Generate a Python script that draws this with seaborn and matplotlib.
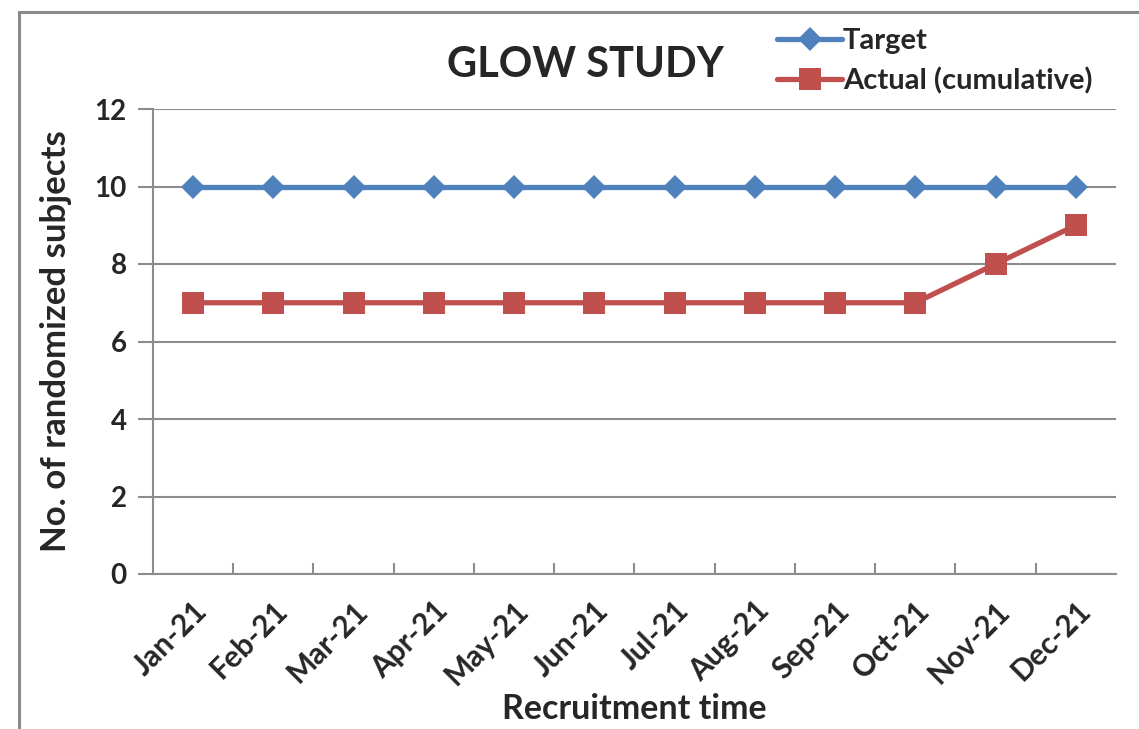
import matplotlib
matplotlib.use("Agg")
import matplotlib.pyplot as plt
from matplotlib.patches import Rectangle
from matplotlib.lines import Line2D
import seaborn as sns
import pandas as pd
import numpy as np

months = ["Jan-21", "Feb-21", "Mar-21", "Apr-21", "May-21", "Jun-21",
          "Jul-21", "Aug-21", "Sep-21", "Oct-21", "Nov-21", "Dec-21"]
target = [10, 10, 10, 10, 10, 10, 10, 10, 10, 10, 10, 10]
actual = [7, 7, 7, 7, 7, 7, 7, 7, 7, 7, 8, 9]
y_ticks = [0, 2, 4, 6, 8, 10, 12]

BLUE = "#4F81BD"
RED = "#C0504D"
GRID = "#8C8C8C"

sns.set_theme(style="white")
plt.rcParams["font.family"] = ["Lato", "DejaVu Sans"]
plt.rcParams["font.weight"] = "bold"

df = pd.DataFrame({"pos": np.arange(len(months)), "month": months,
                   "target": target, "actual": actual})

fig = plt.figure(figsize=(11.39, 7.29), dpi=100)
ax = fig.add_axes([153 / 1139, 1 - 574 / 729, (1116 - 153) / 1139, (574 - 109) / 729])

LW = 3.8
sns.lineplot(data=df, x="pos", y="target", ax=ax, color=BLUE, linewidth=LW,
             marker="D", markersize=12, markeredgewidth=0, zorder=4)
sns.lineplot(data=df, x="pos", y="actual", ax=ax, color=RED, linewidth=LW,
             marker="s", markersize=15.5, markeredgewidth=0, zorder=4)

ax.set_xlim(-0.5, len(months) - 0.5)
ax.set_ylim(0, 12)
ax.set_yticks(y_ticks)
ax.set_yticklabels([str(t) for t in y_ticks], fontsize=20, fontweight="bold")
ax.set_xticks(df["pos"])
ax.set_xticklabels(months, rotation=45, ha="right", rotation_mode="anchor",
                   fontsize=21.5, fontweight="bold")
ax.set_xticks(np.arange(0.5, len(months) - 1, 1.0), minor=True)
ax.tick_params(axis="x", which="major", bottom=True, length=0, pad=16)
ax.tick_params(axis="x", which="minor", bottom=True, direction="in", length=8,
               width=1.5, color=GRID)
ax.tick_params(axis="y", left=True, direction="out", length=11, width=1.5,
               color=GRID, pad=8)

ax.yaxis.grid(True, color=GRID, linewidth=1.5)
ax.xaxis.grid(False)
ax.set_axisbelow(True)
for side in ["top", "right"]:
    ax.spines[side].set_visible(False)
for side in ["left", "bottom"]:
    ax.spines[side].set_color(GRID)
    ax.spines[side].set_linewidth(1.5)
    ax.spines[side].set_zorder(5)

ax.set_xlabel("Recruitment time", fontsize=24.5, fontweight="bold", labelpad=2)
ax.set_ylabel("No. of randomized subjects", fontsize=25, fontweight="bold", labelpad=16)

fig.text(585 / 1139, 1 - 65 / 729, "GLOW STUDY", fontsize=30, fontweight="bold",
         ha="center", va="center")

handles = [
    Line2D([], [], color=BLUE, linewidth=LW, marker="D", markersize=12, markeredgewidth=0),
    Line2D([], [], color=RED, linewidth=LW, marker="s", markersize=15.5, markeredgewidth=0),
]
fig.legend(handles, ["Target", "Actual (cumulative)"], loc="upper left",
           bbox_to_anchor=(757 / 1139, 1 - 8 / 729), frameon=False,
           prop={"size": 21, "weight": "bold"}, handlelength=2.2,
           handletextpad=0.05, labelspacing=0.45, borderpad=0.2)

fig.patches.append(Rectangle((19 / 1139, -0.1), 1.2, 1.1 - 12 / 729,
                             transform=fig.transFigure, fill=False,
                             edgecolor="#8A8A8A", linewidth=2.2, clip_on=False))

fig.savefig("out.png", dpi=100)
